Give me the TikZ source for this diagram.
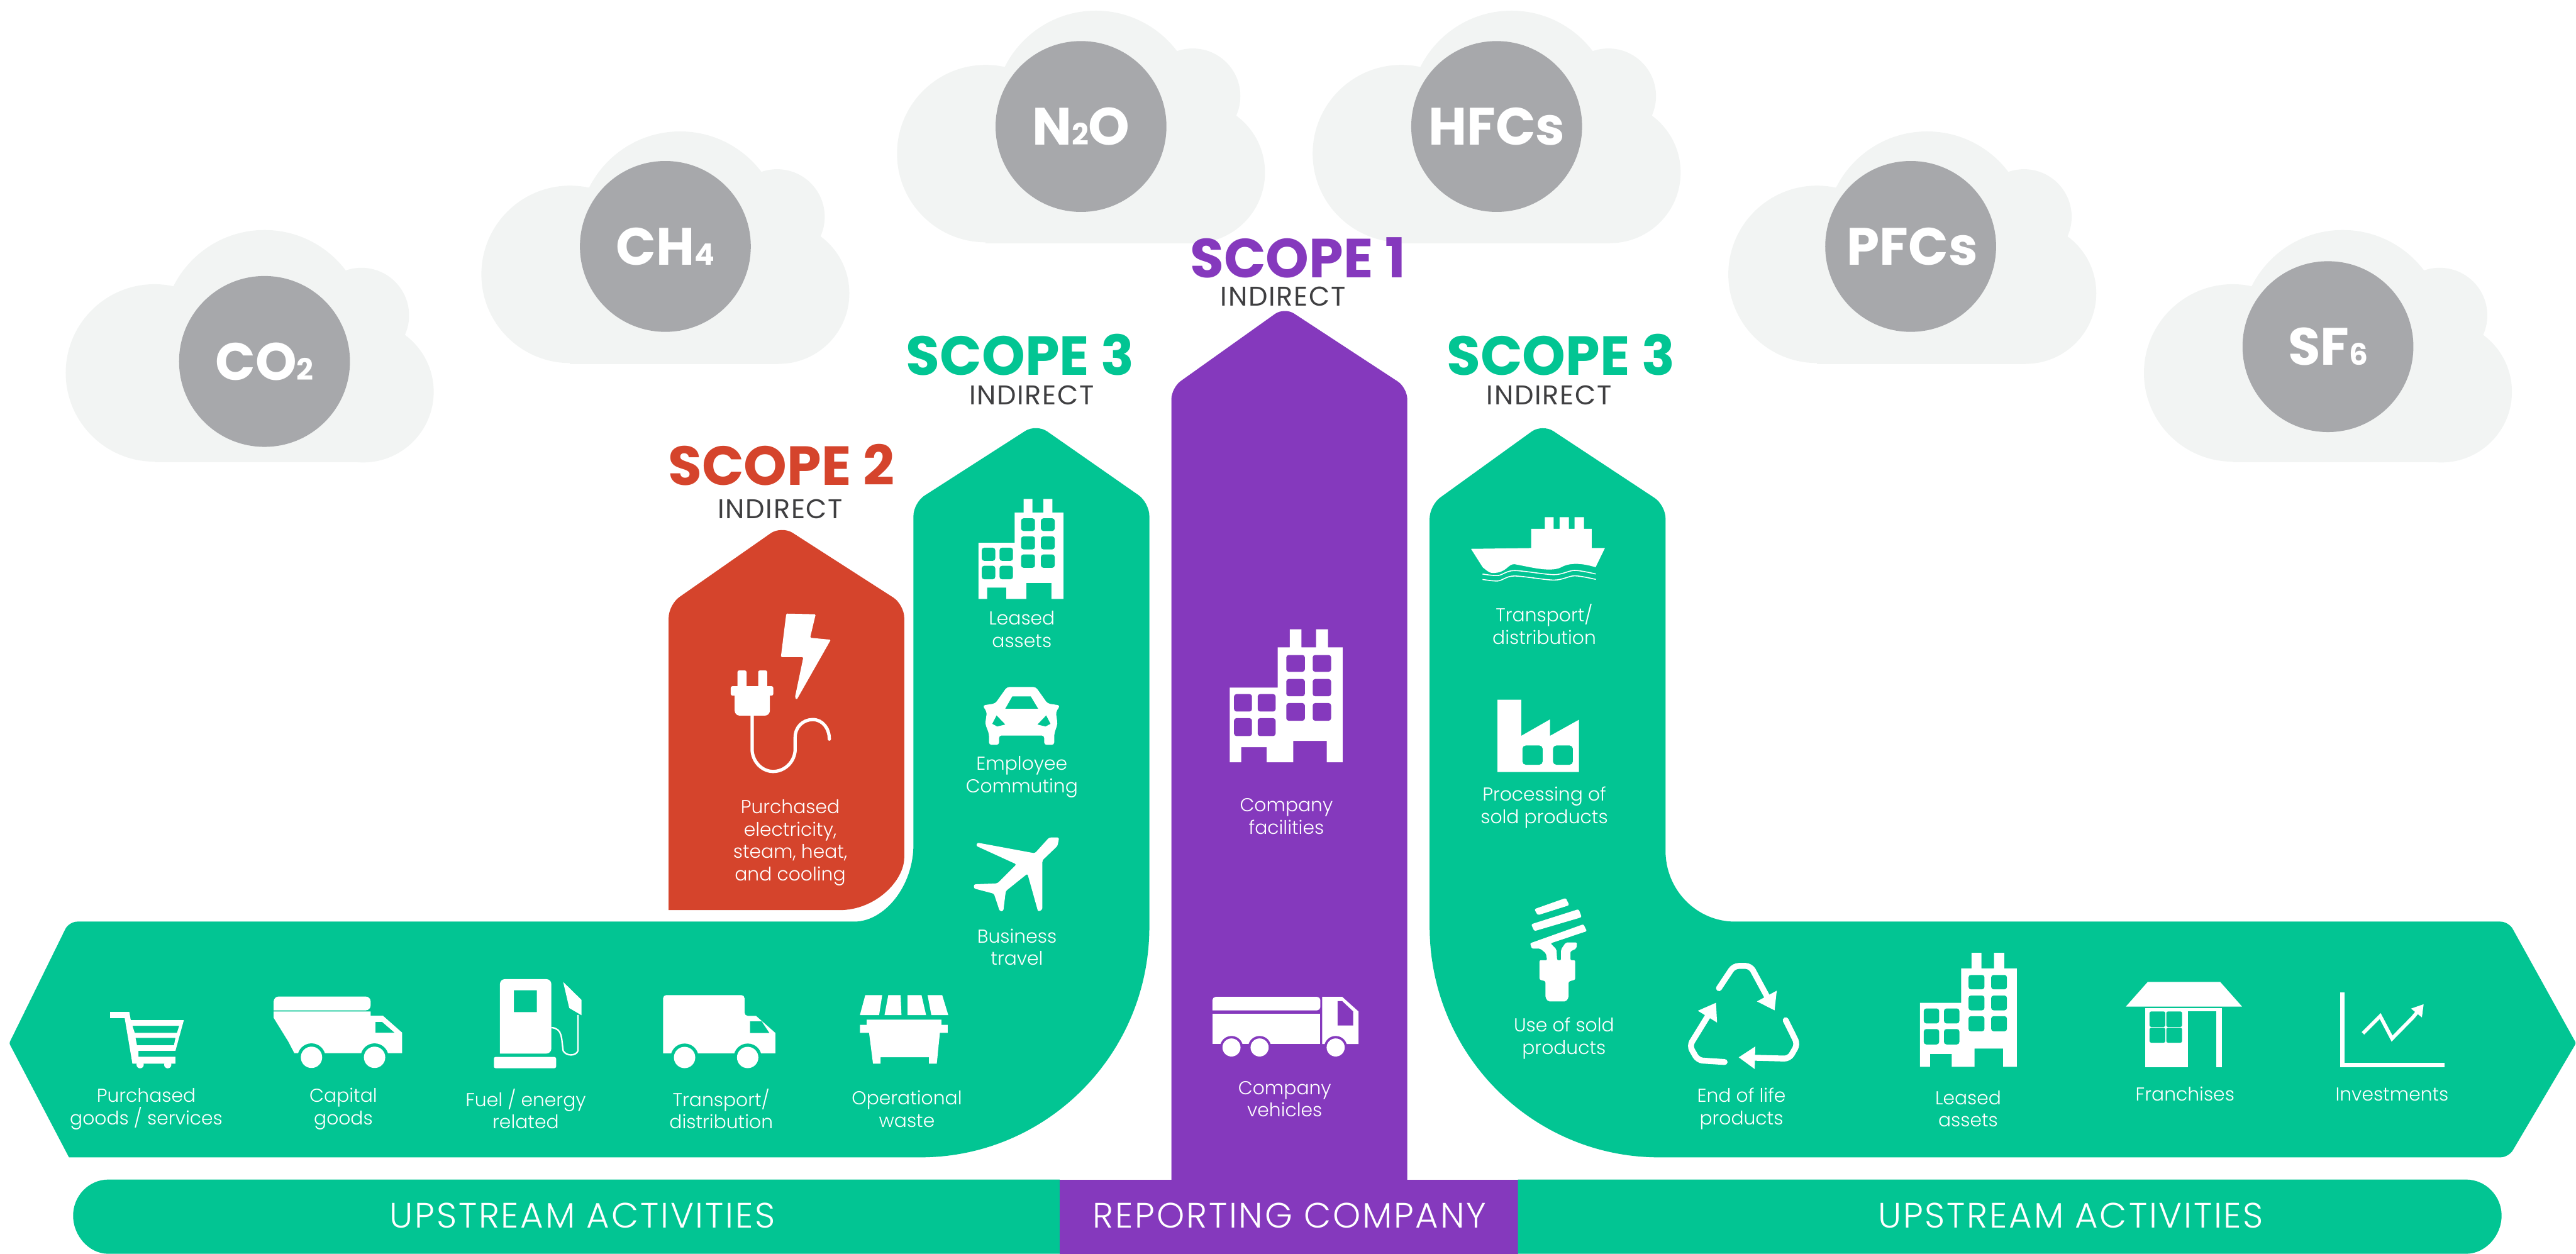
\documentclass[tikz,border=0pt]{standalone}
\usepackage{fontspec}
\setmainfont{Poppins}[UprightFont=* Light, BoldFont=* Bold]
\newfontfamily\midfont{Poppins}[LetterSpace=4]
\usetikzlibrary{arrows.meta}
\definecolor{scopegreen}{HTML}{02C593}
\definecolor{scopepurple}{HTML}{8539BD}
\definecolor{scopered}{HTML}{D5442C}
\definecolor{cloudgrey}{HTML}{F2F4F3}
\definecolor{gasgrey}{HTML}{A7A8AB}
\definecolor{inkgrey}{HTML}{3F3F41}
\newcommand{\gassub}[1]{{\fontsize{18}{18}\selectfont #1}}

\begin{document}
\begin{tikzpicture}[x=1pt, y=-1pt]
        \tikzset{
            iconlabel/.style={text=white, align=center, inner sep=0pt, font=\fontsize{11.4}{13.6}\selectfont},
            barlabel/.style={text=white, inner sep=0pt, font=\addfontfeature{LetterSpace=5}\fontsize{21.5}{24}\selectfont},
            scopehead/.style={inner sep=0pt, font=\bfseries\fontsize{33.5}{33.5}\selectfont},
            indirectlabel/.style={text=inkgrey, inner sep=0pt, font=\midfont\fontsize{16.5}{18}\selectfont},
            gaslabel/.style={text=white, inner sep=0pt, font=\bfseries\fontsize{32}{32}\selectfont},
            gascloud/.pic={
                \fill[cloudgrey] (-58.5,16.5) circle (54pt) (8.5,-8.5) circle (62pt)
                    (67.5,-18.5) circle (29pt) (68.5,28) circle (43pt);
                \fill[cloudgrey] (-58.5,-14.5) rectangle (68.5,71);
            },
            building/.pic={
                \fill[white] (0,26.7) -- (22,26.7) -- (22,8.3) -- (27.5,8.3) -- (27.5,0) -- (32.8,0) -- (32.8,8.3)
                    -- (39.5,8.3) -- (39.5,0) -- (45,0) -- (45,8.3) -- (51.7,8.3) -- (51.7,60.9) -- (44.4,60.9)
                    -- (44.4,51.1) -- (29.1,51.1) -- (29.1,60.9) -- (16.9,60.9) -- (16.9,54) -- (5.3,54) -- (5.3,60.9)
                    -- (0,60.9) -- cycle;
                \fill[#1, rounded corners=1.5pt]
                    (25.9,11.8) rectangle (34.4,19.5) (38,11.8) rectangle (46.4,19.5)
                    (25.9,22.8) rectangle (34.4,30.7) (38,22.8) rectangle (46.4,30.7)
                    (25.9,33.8) rectangle (34.4,41.9) (38,33.8) rectangle (46.4,41.9)
                    (2,29.7) rectangle (10.2,37.7) (12.8,29.7) rectangle (21,37.7)
                    (2,40.7) rectangle (10.2,48.9) (12.8,40.7) rectangle (21,48.9);
            },
            vantruck/.pic={
                \fill[white, rounded corners=2pt] (0,35.5) -- (0,0) -- (49.6,0) -- (49.6,12.7) [sharp corners] -- (56.6,12.7)
                    -- (68.4,23.1) -- (68.4,35.5) -- cycle;
                \fill[scopegreen] (52.9,16) -- (60,16) -- (64.7,23.1) -- (52.9,23.1) -- cycle;
                \fill[scopegreen] (13.1,38) circle (8.5pt) (51.5,38) circle (8.5pt);
                \fill[white] (13.1,38) circle (6.5pt) (51.5,38) circle (6.5pt);
            },
            cargotruck/.pic={
                \fill[white, rounded corners=3pt] (0,8.4) -- (0,0) -- (59,0) -- (59,8.4) [sharp corners] -- cycle;
                \fill[white] (0,9.1) -- (59,9.1) -- (59,11.7) -- (66.5,11.7) -- (78.2,22) -- (78.2,34.5)
                    -- (12.6,34.5) -- (8.9,27.4) -- (0,13) -- cycle;
                \fill[scopegreen] (62,15.5) -- (66,15.5) -- (73.5,22) -- (62,22) -- cycle;
                \fill[scopegreen] (23,37) circle (8.5pt) (61.4,37) circle (8.5pt);
                \fill[white] (23,37) circle (6.5pt) (61.4,37) circle (6.5pt);
            }
        }
        \useasboundingbox (0,0) rectangle (1568,763.2);

        \pic at (152.5,210.5) {gascloud};
        \pic at (405.5,150.5) {gascloud};
        \pic at (658.5,77) {gascloud};
        \pic at (911.5,77) {gascloud};
        \pic at (1164.5,150.5) {gascloud};
        \pic at (1417.5,210.5) {gascloud};
        \fill[gasgrey] (161,220) circle (52pt) (405,150) circle (52pt) (658,77) circle (52pt)
            (911,77) circle (52pt) (1163,150) circle (52pt) (1417,211) circle (52pt);
        \node[gaslabel] (co2) at (161,220) {CO\gassub{2}};
        \node[gaslabel] (ch4) at (405,150) {CH\gassub{4}};
        \node[gaslabel] (n2o) at (658,77) {N\gassub{2}O};
        \node[gaslabel] (hfcs) at (911,77) {HFCs};
        \node[gaslabel] (pfcs) at (1164,150) {PFCs};
        \node[gaslabel] (sf6) at (1417,211) {SF\gassub{6}};

        \fill[scopered, rounded corners=8pt] (407,554) -- (407,368) -- (475.7,320) -- (550.4,368) -- (550.4,514)
            [sharp corners] .. controls (550.4,536) and (533,554) .. (511,554) -- cycle;
        \fill[scopegreen, rounded corners=5pt] (42,704.5) [rounded corners=1pt] -- (5.6,635) [rounded corners=5pt] -- (42,561)
            -- (515,561) [sharp corners] .. controls (538,561) and (556,540) .. (556,514) [rounded corners=8pt] -- (556,306)
            -- (630.8,258) -- (699.6,306) [sharp corners] -- (699.6,564)
            .. controls (699.6,642) and (637,704.5) .. (560,704.5) -- cycle;
        \fill[scopegreen, rounded corners=8pt] (870.2,564) -- (870.2,307.5) -- (938.8,258) -- (1013.8,307.5) [sharp corners] -- (1013.8,518)
            .. controls (1013.8,542) and (1033,561) .. (1056,561) [rounded corners=5pt] -- (1527,561) [rounded corners=1pt] -- (1568,635)
            [rounded corners=5pt] -- (1527,704.5) [sharp corners] -- (1010,704.5) .. controls (933,704.5) and (870.2,642) .. (870.2,564) -- cycle;
        \fill[scopepurple, rounded corners=7pt] (713,720) -- (713,236) -- (781.8,187) -- (856.6,236) [sharp corners] -- (856.6,720) -- cycle;
        \fill[scopegreen] (645,718) -- (66,718) .. controls (54,718) and (44.5,728) .. (44.5,740)
            .. controls (44.5,752) and (54,763.2) .. (66,763.2) -- (645,763.2) -- cycle;
        \fill[scopepurple] (645,718) rectangle (924,763.2);
        \fill[scopegreen] (924,718) -- (1501,718) .. controls (1513,718) and (1522.7,728) .. (1522.7,740)
            .. controls (1522.7,752) and (1513,763.2) .. (1501,763.2) -- (924,763.2) -- cycle;

        \node[scopehead, text=scopered] (scopetwo) at (475.5,283) {SCOPE 2};
        \node[indirectlabel] (indirecttwo) at (475,310) {INDIRECT};
        \node[scopehead, text=scopepurple] (scopeone) at (790,157) {SCOPE 1};
        \node[indirectlabel] (indirectone) at (781,180.5) {INDIRECT};
        \node[scopehead, text=scopegreen] (scopethreea) at (621,216) {SCOPE 3};
        \node[indirectlabel] (indirectthreea) at (628,240.5) {INDIRECT};
        \node[scopehead, text=scopegreen] (scopethreeb) at (950,216) {SCOPE 3};
        \node[indirectlabel] (indirectthreeb) at (943,240.5) {INDIRECT};

        % upstream icons
        \begin{scope}[shift={(67,616)}]
            \fill[white, even odd rule] (0,0) -- (11.7,0) -- (12.6,5) -- (44.9,5) -- (39.8,23.6) -- (17.3,23.6) -- (17.3,27.3)
                -- (39.8,27.3) -- (39.8,31.5) -- (13.6,31.5) -- (8.9,3.7) -- (0,3.7) -- cycle
                (13.6,8.4) -- (42.1,8.4) -- (40.7,12.7) -- (15,12.7) -- cycle
                (15.5,15.8) -- (39.8,15.8) -- (38.9,20.3) -- (16.4,20.3) -- cycle;
            \fill[white] (18.3,32.1) circle (2.2pt) (35.1,32.1) circle (2.2pt);
        \end{scope}
        \pic at (166.6,606.6) {cargotruck};
        \begin{scope}[shift={(300.6,596)}]
            \fill[white, even odd rule, rounded corners=3pt] (3.7,45.3) -- (3.7,0) -- (35,0) -- (35,45.3) [sharp corners] -- cycle
                (12.2,6.8) rectangle (26.2,20.1);
            \fill[white, rounded corners=1pt] (0,47.4) rectangle (37.9,54.2);
            \draw[white, line width=.9pt] (35,29.5) .. controls (42,30) and (41,36) .. (42.2,43.6) .. controls (44,47) and (50,47) .. (51.2,43.6) -- (51.2,21.8);
            \fill[white] (42.2,1.7) -- (53.4,12.7) -- (53.4,22) -- (45.9,17.6) -- cycle;
        \end{scope}
        \pic at (403.6,605.7) {vantruck};
        \begin{scope}[shift={(523.4,605.7)}]
            \fill[white] (3.3,0) -- (13.6,0) -- (11.7,12.2) -- (0,12.2) -- cycle (17.3,0) -- (24.8,0) -- (25.3,12.2) -- (15,12.2) -- cycle
                (29,0) -- (37.5,0) -- (40.3,12.2) -- (29,12.2) -- cycle (41.2,0) -- (50.1,0) -- (53.8,12.2) -- (43.5,12.2) -- cycle;
            \fill[white] (4.2,15) -- (49.6,15) -- (49.6,18.1) -- (53.4,18.1) -- (53.4,23) -- (48.7,23) -- (46.8,41.8) -- (42.1,41.8)
                -- (42.1,37.8) -- (12.6,37.8) -- (12.6,41.8) -- (8,41.8) -- (5.6,23) -- (0,23) -- (0,18.1) -- (4.2,18.1) -- cycle;
        \end{scope}
        \node[iconlabel] (purchased) at (89,675) {Purchased\\goods / services};
        \node[iconlabel] (capital) at (209,675) {Capital\\goods};
        \node[iconlabel] (fuel) at (320,675) {Fuel / energy\\related};
        \node[iconlabel] (transport) at (439,675) {Transport/\\distribution};
        \node[iconlabel] (waste) at (552,675) {Operational\\waste};

        % scope 2 icon
        \begin{scope}[shift={(444.8,373.5)}]
            \fill[white, rounded corners=.6pt] (33.8,0) -- (51.7,.4) -- (48.3,14.7) -- (60.9,15.9) -- (40.1,52.5) -- (39.1,50.9) -- (44.2,26.5) -- (30.5,26.5) -- cycle;
            \fill[white, rounded corners=1pt] (4.1,34.6) rectangle (9.6,45) (16.7,34.6) rectangle (22.2,45);
            \fill[white, rounded corners=1pt] (0,44.2) rectangle (25.9,49.9);
            \fill[white, rounded corners=3pt] (2.4,47) rectangle (23.8,62.1);
            \draw[white, line width=2pt, line cap=round] (13,62.1) -- (13,82.5) .. controls (13,90) and (19,96.1) .. (25.8,96.1)
                .. controls (33,96.1) and (39.2,90) .. (39.2,82.5) -- (39.2,75.3) .. controls (39.2,69) and (44,64.5) .. (49.9,64.5)
                .. controls (56,64.5) and (60,70) .. (60,76.4);
        \end{scope}
        \node[iconlabel] (electricity) at (481,513) {Purchased\\electricity,\\steam, heat,\\and cooling};

        % left arm icons
        \pic at (595.6,303.7) {building=scopegreen};
        \node[iconlabel] (leaseda) at (622,383) {Leased\\assets};
        \begin{scope}[shift={(598.3,418.2)}]
            \fill[white, rounded corners=1.5pt] (14.6,0) -- (32.2,0) -- (39.3,10) -- (47,11.2) -- (44.4,15.3) -- (45.4,22.4) -- (43.4,28.5)
                -- (43.4,35.2) -- (37.3,35.2) -- (37.3,29.5) -- (9.8,29.5) -- (9.8,35.2) -- (3.7,35.2) -- (3.7,28.5) -- (1.4,22.4)
                -- (2.4,15.3) -- (-.2,11.2) -- (7.5,10) -- cycle;
            \fill[scopegreen] (17.9,5.7) -- (29.1,5.7) -- (33.6,13.2) -- (13.6,13.2) -- cycle;
            \fill[scopegreen] (8.3,17.3) -- (13.6,22.8) -- (8.7,24) -- (5.7,22.4) -- cycle (38.5,17.3) -- (33.2,22.8) -- (38.1,24) -- (41.1,22.4) -- cycle;
        \end{scope}
        \node[iconlabel] (commuting) at (622,473) {Employee\\Commuting};
        \begin{scope}[shift={(592.2,509.2)}]
            \fill[white, rounded corners=1pt] (52.5,.6) -- (51.5,5.7) -- (42.3,14.5) -- (42.3,44.4) -- (39.7,45.8) -- (33.2,22.6)
                -- (20,33.2) -- (18.5,45.4) -- (16.3,45.4) -- (12.8,34.8) -- (.6,31.6) -- (.6,29.1) -- (14.9,28.5) -- (26.5,16.9)
                -- (2,5.7) -- (2.6,3.7) -- (37.7,10.2) -- (46.4,.6) -- cycle;
        \end{scope}
        \node[iconlabel] (travel) at (619,576.5) {Business\\travel};

        % scope 1 icons
        \pic[scale=1.33] at (748.5,383) {building=scopepurple};
        \node[iconlabel] (facilities) at (783,497) {Company\\facilities};
        \begin{scope}[shift={(738,606.8)}]
            \fill[white, rounded corners=2pt] (0,8.2) -- (0,0) -- (65.7,0) -- (65.7,8.2) [sharp corners] -- cycle;
            \fill[white] (0,10.1) -- (65.7,10.1) -- (65.7,28.7) -- (0,28.7) -- cycle;
            \fill[white] (66.8,0) -- (79,0) -- (88.9,8.9) -- (88.9,28.7) -- (66.8,28.7) -- cycle;
            \fill[scopepurple] (76.2,2.6) -- (79,2.6) -- (85.7,8.9) -- (85.7,17.4) -- (76.2,17.4) -- cycle;
            \fill[scopepurple] (11.6,30.8) circle (7pt) (28.7,30.8) circle (7pt) (75,30.8) circle (7pt);
            \fill[white] (11.6,30.8) circle (5.5pt) (28.7,30.8) circle (5.5pt) (75,30.8) circle (5.5pt);
        \end{scope}
        \node[iconlabel] (vehicles) at (782,669) {Company\\vehicles};

        % right arm icons
        \begin{scope}[shift={(895.4,314.8)}]
            \fill[white] (0,19.3) -- (36.6,18.8) -- (36.6,7.1) -- (44.9,7.1) -- (44.9,0) -- (50.3,0) -- (50.3,7.1) -- (53.9,7.1) -- (53.9,0)
                -- (59.6,0) -- (59.6,7.1) -- (63,7.1) -- (63,0) -- (68.7,0) -- (68.7,7.1) -- (73.4,7.1) -- (73.4,18.8) -- (81.5,18.8)
                -- (75.8,30.5) .. controls (68,28) and (60,27.5) .. (54.9,30.5) .. controls (48,34) and (35,30) .. (26.3,28.6)
                .. controls (22,28.6) and (22,34) .. (13,34) .. controls (11,34) and (9,32) .. (7.1,30.5) -- cycle;
            \foreach \w in {34.6,37.9}
                \draw[white, line width=.6pt] plot[smooth] coordinates {(7,\w) (16.5,\w+.9) (26.3,\w-2.1) (50.6,\w+.4) (63,\w-2.2) (76,\w)};
        \end{scope}
        \node[iconlabel] (transportb) at (940,380) {Transport/\\distribution};
        \begin{scope}[shift={(911.5,425.9)}]
            \fill[white] (0,0) -- (14.5,0) -- (14.5,22) -- (32,12) -- (32,22) -- (49.6,12.2) -- (49.6,44) -- (0,44) -- cycle;
            \fill[scopegreen, rounded corners=2pt] (15.2,27.9) rectangle (27.5,39.6) (33.8,27.9) rectangle (45.9,39.6);
        \end{scope}
        \node[iconlabel] (processing) at (940,491.5) {Processing of\\sold products};
        \begin{scope}[shift={(931.3,546.6)}]
            \fill[white, rounded corners=1pt] (2.6,6.8) -- (21.8,0) -- (23.9,4.4) -- (4.7,10.5) -- cycle;
            \fill[white, rounded corners=1pt] (.7,16) -- (29.6,6.8) -- (31.5,11.7) -- (2.6,20.2) -- cycle;
            \fill[white, rounded corners=.8pt] (0,27.6) -- (32.5,16) -- (34.6,20.2) -- (12.5,27.6) -- (16.1,31.3) -- (16.5,37.9) -- (18.9,37.9)
                -- (18.9,31.3) -- (21.8,27.1) -- (28.6,27.1) -- (28.2,30.8) -- (24.6,32.5) -- (24.6,37.9) -- (27.5,37.9) -- (27.5,49.7)
                -- (23.5,50.9) -- (23.5,60.7) -- (21.8,63) -- (11.1,63) -- (9.4,60.7) -- (9.4,50.7) -- (5.8,49.7) -- (5.8,37.9) -- (10.4,37.9)
                -- (9.7,33.7) -- (6.2,30.8) -- (1.1,30.8) -- cycle;
        \end{scope}
        \node[iconlabel] (useproducts) at (952,632) {Use of sold\\products};

        % downstream icons
        \begin{scope}[shift={(1061,623)}, scale=1.13]
            \foreach \r in {0,120,240}
                \draw[white, line width=3.6pt, line cap=round, rounded corners=3pt, rotate=\r, -{Triangle[length=10pt, width=13pt]}]
                    (-13,-19) -- (-5,-31) -- (4,-31) -- (17,-7);
        \end{scope}
        \node[iconlabel] (endlife) at (1060,675) {End of life\\products};
        \pic[scale=1.14] at (1168.7,580) {building=scopegreen};
        \node[iconlabel] (leasedb) at (1198,675) {Leased\\assets};
        \begin{scope}[shift={(1294,597.7)}]
            \fill[white] (13.3,0) -- (57.4,0) -- (70.7,15) -- (0,15) -- cycle;
            \fill[white] (11.6,16) rectangle (58.5,52);
            \fill[scopegreen, rounded corners=1pt] (14.4,18) rectangle (24,27.4) (24.6,18) rectangle (34.2,27.4)
                (14.4,27.9) rectangle (24,37) (24.6,27.9) rectangle (34.2,37);
            \fill[scopegreen] (37.6,18) rectangle (55.2,52);
        \end{scope}
        \node[iconlabel] (franchises) at (1330,666) {Franchises};
        \begin{scope}[shift={(1424.5,604)}]
            \draw[white, line width=2.5pt] (1.3,0) -- (1.3,44.3) -- (63.5,44.3);
            \draw[white, line width=2.2pt, -{Triangle[length=7pt, width=8pt]}] (13.8,25) -- (24.3,14.5) -- (31.5,28.2) -- (44.2,15.3) -- (50.8,7.2);
        \end{scope}
        \node[iconlabel] (investments) at (1456,666) {Investments};

        \node[barlabel] (upstreama) at (354.5,740) {UPSTREAM ACTIVITIES};
        \node[barlabel] (reporting) at (785,740) {REPORTING COMPANY};
        \node[barlabel] (upstreamb) at (1260.5,740) {UPSTREAM ACTIVITIES};
\end{tikzpicture}
\end{document}
